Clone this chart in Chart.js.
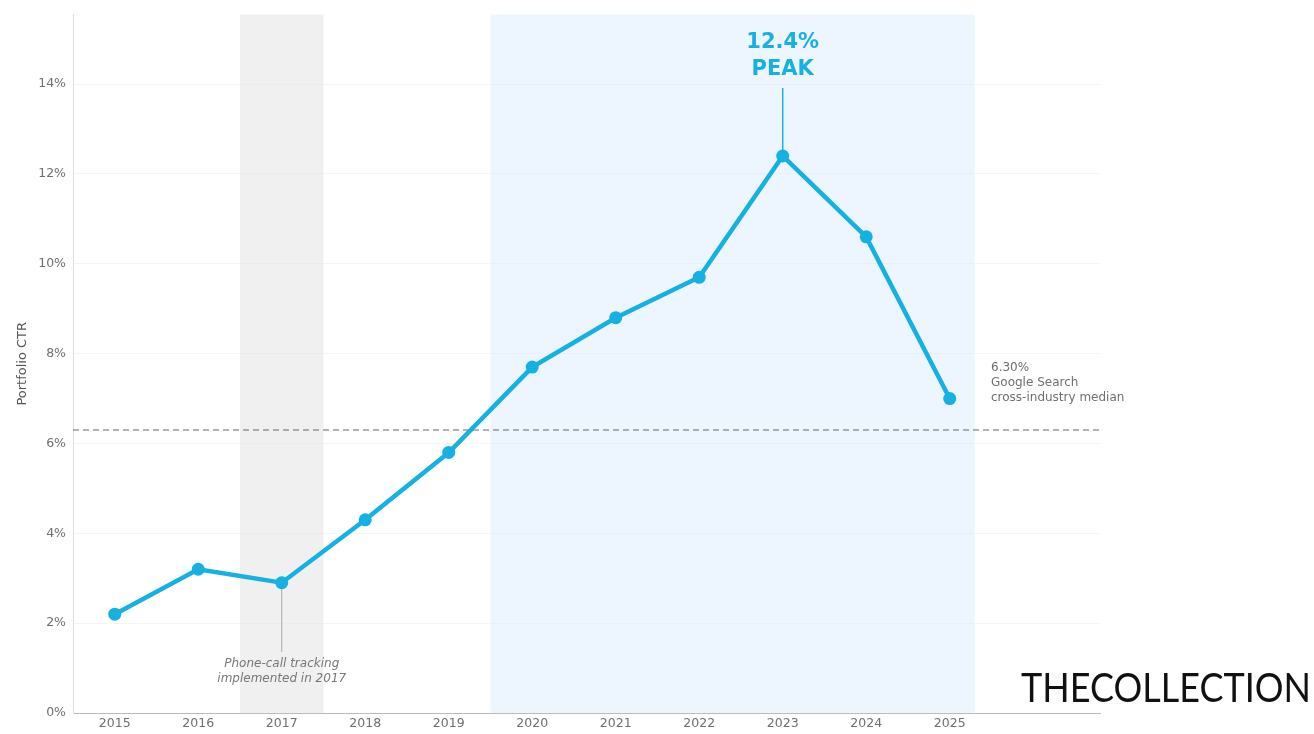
<!DOCTYPE html>
<html>
<head>
<meta charset="utf-8">
<script src="https://cdn.jsdelivr.net/npm/chart.js@4.4.1/dist/chart.umd.min.js"></script>
<style>
    html, body { margin: 0; padding: 0; background: #fff; }
    #wrap { width: 1314px; height: 734px; position: relative; }
</style>
</head>
<body>
<div id="wrap"><canvas id="ctr-chart"></canvas></div>
<script>
const years = [2015, 2016, 2017, 2018, 2019, 2020, 2021, 2022, 2023, 2024, 2025];
const ctrValues = [2.2, 3.2, 2.9, 4.3, 5.8, 7.7, 8.8, 9.7, 12.4, 10.6, 7.0];
const yTicks = [0, 2, 4, 6, 8, 10, 12, 14];
const medianCtr = 6.3;
const grayBand = [2016.5, 2017.5];
const blueBand = [2019.5, 2025.3];
const peakYear = 2023;
const trackingYear = 2017;

const LINE_BLUE = "#16b1e3";
const TEXT_GRAY = "#6f6f6f";

const annotations = {
    id: "annotations",
    beforeDatasetsDraw(chart) {
        const { ctx, chartArea, scales } = chart;
        const x = scales.x;
        ctx.save();
        ctx.fillStyle = "rgba(225,225,225,0.5)";
        ctx.fillRect(x.getPixelForValue(grayBand[0]), chartArea.top,
            x.getPixelForValue(grayBand[1]) - x.getPixelForValue(grayBand[0]), chartArea.bottom - chartArea.top);
        ctx.fillStyle = "rgba(214,235,252,0.45)";
        ctx.fillRect(x.getPixelForValue(blueBand[0]), chartArea.top,
            x.getPixelForValue(blueBand[1]) - x.getPixelForValue(blueBand[0]), chartArea.bottom - chartArea.top);

        // median line
        const ym = scales.y.getPixelForValue(medianCtr);
        ctx.strokeStyle = "#666";
        ctx.lineWidth = 1.2;
        ctx.setLineDash([6, 4]);
        ctx.beginPath();
        ctx.moveTo(chartArea.left, ym);
        ctx.lineTo(chartArea.right, ym);
        ctx.stroke();
        ctx.setLineDash([]);

        // peak leader
        const px = x.getPixelForValue(peakYear);
        const py = scales.y.getPixelForValue(ctrValues[years.indexOf(peakYear)]);
        ctx.strokeStyle = LINE_BLUE;
        ctx.lineWidth = 1.5;
        ctx.beginPath();
        ctx.moveTo(px, 88);
        ctx.lineTo(px, py);
        ctx.stroke();

        // tracking leader
        const tx = x.getPixelForValue(trackingYear);
        const ty = scales.y.getPixelForValue(ctrValues[years.indexOf(trackingYear)]);
        ctx.strokeStyle = "#aaa";
        ctx.lineWidth = 1;
        ctx.beginPath();
        ctx.moveTo(tx, ty);
        ctx.lineTo(tx, 652);
        ctx.stroke();
        ctx.restore();
    },
    afterDraw(chart) {
        const { ctx, scales } = chart;
        const x = scales.x;
        ctx.save();
        ctx.textBaseline = "middle";

        const px = x.getPixelForValue(peakYear);
        ctx.fillStyle = LINE_BLUE;
        ctx.textAlign = "center";
        ctx.font = "bold 21px 'DejaVu Sans'";
        ctx.fillText("12.4%", px, 43);
        ctx.fillText("PEAK", px, 70);

        const tx = x.getPixelForValue(trackingYear);
        ctx.fillStyle = "#777";
        ctx.font = "italic 12px 'DejaVu Sans'";
        ctx.fillText("Phone-call tracking", tx, 664);
        ctx.fillText("implemented in 2017", tx, 679);

        ctx.textAlign = "left";
        ctx.fillStyle = TEXT_GRAY;
        ctx.font = "12px 'DejaVu Sans'";
        ctx.fillText("6.30%", 991, 368);
        ctx.fillText("Google Search", 991, 383);
        ctx.fillText("cross-industry median", 991, 398);

        // logo
        ctx.fillStyle = "#111";
        ctx.font = "400 34px 'Lato'";
        ctx.textBaseline = "alphabetic";
        const logo = "THECOLLECTION";
        const w = ctx.measureText(logo).width;
        ctx.translate(1021, 702);
        ctx.scale(290 / w, 1.2);
        ctx.fillText(logo, 0, 0);
        ctx.restore();
    },
};

const config = {
    type: "line",
    data: {
        datasets: [
            {
                label: "Portfolio CTR",
                data: years.map((yr, i) => ({ x: yr, y: ctrValues[i] })),
                borderColor: LINE_BLUE,
                backgroundColor: LINE_BLUE,
                borderWidth: 4.5,
                pointRadius: 6.5,
                pointBorderWidth: 0,
                pointHoverRadius: 6.5,
                tension: 0,
            },
        ],
    },
    options: {
        animation: false,
        responsive: false,
        devicePixelRatio: 1,
        layout: {
            padding: { left: 0, right: 214, top: 12, bottom: 0 },
        },
        scales: {
            x: {
                type: "linear",
                min: 2014.5,
                max: 2026.8,
                afterBuildTicks: (scale) => {
                    scale.ticks = years.map((v) => ({ value: v }));
                },
                afterFit: (scale) => {
                    scale.height = 21;
                },
                grid: { display: false, drawTicks: false },
                border: { display: true, color: "#bbb", width: 1 },
                ticks: {
                    padding: 3,
                    color: TEXT_GRAY,
                    font: { family: "DejaVu Sans", size: 12.5 },
                    maxRotation: 0,
                    callback: (v) => String(v),
                },
            },
            y: {
                min: 0,
                max: 15.55,
                afterBuildTicks: (scale) => {
                    scale.ticks = yTicks.map((v) => ({ value: v }));
                },
                afterFit: (scale) => {
                    scale.width = 73;
                },
                title: {
                    display: true,
                    text: "Portfolio CTR",
                    color: "#555",
                    font: { family: "DejaVu Sans", size: 13 },
                    padding: { top: 15, bottom: 4 },
                },
                grid: {
                    color: "rgba(0,0,0,0.045)",
                    drawTicks: false,
                },
                border: { display: true, color: "#ddd", width: 1 },
                ticks: {
                    padding: 7,
                    color: TEXT_GRAY,
                    font: { family: "DejaVu Sans", size: 12.5 },
                    callback: (v) => v + "%",
                },
            },
        },
        plugins: {
            legend: { display: false },
            tooltip: { enabled: false },
        },
    },
    plugins: [annotations],
};

window.addEventListener("DOMContentLoaded", () => {
    const canvas = document.getElementById("ctr-chart");
    canvas.width = 1314;
    canvas.height = 734;
    new Chart(canvas, config);
});
</script>
</body>
</html>
